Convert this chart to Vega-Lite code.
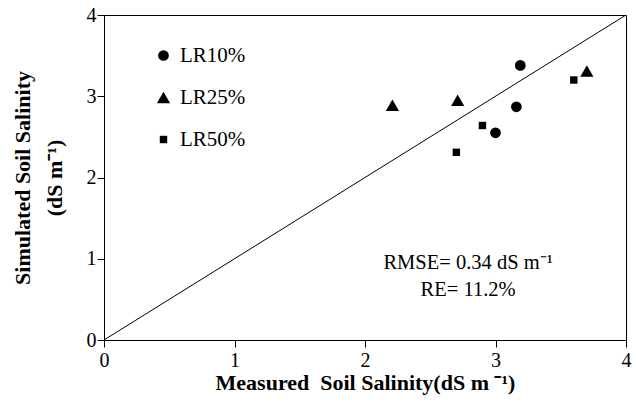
{
  "$schema": "https://vega.github.io/schema/vega-lite/v6.json",
  "width": 522,
  "height": 325,
  "autosize": "none",
  "padding": {"left": 104, "top": 15, "right": 10, "bottom": 68},
  "background": "white",
  "config": {
    "view": {"stroke": "black", "strokeWidth": 1},
    "font": "Liberation Serif",
    "axis": {"grid": false, "domainColor": "black", "tickColor": "black", "labelColor": "black", "titleColor": "black", "domainWidth": 1, "tickWidth": 1}
  },
  "layer": [
    {
      "data": {"values": [{"x": 0, "y": 0, "x2": 4, "y2": 4}]},
      "mark": {"type": "rule", "color": "black", "strokeWidth": 1},
      "encoding": {
        "x": {"field": "x", "type": "quantitative", "scale": {"domain": [0, 4], "nice": false},
          "axis": {"values": [0, 1, 2, 3, 4], "format": "d", "title": "Measured\u00a0 Soil Salinity(dS m\u00a0⁻¹)", "titleFontSize": 22, "titleFontWeight": "bold", "titleFont": "Liberation Serif", "labelFontSize": 20, "labelFont": "Liberation Serif", "tickSize": 7, "labelPadding": 3, "titlePadding": 2, "labelFlush": false, "labelOverlap": false}},
        "y": {"field": "y", "type": "quantitative", "scale": {"domain": [0, 4], "nice": false},
          "axis": {"values": [0, 1, 2, 3, 4], "format": "d", "title": ["Simulated Soil Salinity", "(dS m⁻¹)"], "titleFontSize": 22, "titleFontWeight": "bold", "titleFont": "Liberation Serif", "titleLineHeight": 32, "titleAngle": -90, "titleAlign": "center", "titleBaseline": "middle", "titleX": -82, "titleY": 162.5, "labelFontSize": 20, "labelFont": "Liberation Serif", "tickSize": 7, "labelPadding": 1, "labelFlush": false, "labelOverlap": false}},
        "x2": {"field": "x2"},
        "y2": {"field": "y2"}
      }
    },
    {
      "data": {"values": [
        {"series": "LR10%", "measured": 3.19, "simulated": 3.38},
        {"series": "LR10%", "measured": 3.16, "simulated": 2.87},
        {"series": "LR10%", "measured": 3.0, "simulated": 2.55},
        {"series": "LR25%", "measured": 2.21, "simulated": 2.89},
        {"series": "LR25%", "measured": 2.71, "simulated": 2.95},
        {"series": "LR25%", "measured": 3.7, "simulated": 3.31},
        {"series": "LR50%", "measured": 2.7, "simulated": 2.31},
        {"series": "LR50%", "measured": 2.9, "simulated": 2.64},
        {"series": "LR50%", "measured": 3.6, "simulated": 3.2}
      ]},
      "mark": {"type": "point", "filled": true, "color": "black", "opacity": 1},
      "encoding": {
        "x": {"field": "measured", "type": "quantitative"},
        "y": {"field": "simulated", "type": "quantitative"},
        "shape": {"field": "series", "type": "nominal",
          "scale": {"domain": ["LR10%", "LR25%", "LR50%"], "range": ["circle", "triangle-up", "square"]},
          "legend": {"orient": "none", "legendX": 49, "legendY": 30, "title": null, "padding": 0, "labelFontSize": 21, "labelFont": "Liberation Serif", "labelColor": "black", "rowPadding": 20, "labelOffset": 6, "symbolFillColor": "black", "symbolStrokeColor": "black", "symbolOpacity": 1}},
        "size": {"field": "series", "type": "nominal",
          "scale": {"type": "ordinal", "domain": ["LR10%", "LR25%", "LR50%"], "range": [115, 175, 55]},
          "legend": {"orient": "none", "legendX": 49, "legendY": 30, "title": null, "padding": 0, "labelFontSize": 21, "labelFont": "Liberation Serif", "labelColor": "black", "rowPadding": 20, "labelOffset": 6, "symbolFillColor": "black", "symbolStrokeColor": "black", "symbolOpacity": 1}}
      }
    },
    {
      "data": {"values": [
        {"label": "RMSE= 0.34 dS m⁻¹", "x": 2.79, "y": 0.874},
        {"label": "RE= 11.2%", "x": 2.79, "y": 0.54}
      ]},
      "mark": {"type": "text", "align": "center", "baseline": "alphabetic", "fontSize": 20.5, "font": "Liberation Serif", "color": "black"},
      "encoding": {
        "x": {"field": "x", "type": "quantitative"},
        "y": {"field": "y", "type": "quantitative"},
        "text": {"field": "label"}
      }
    }
  ]
}
